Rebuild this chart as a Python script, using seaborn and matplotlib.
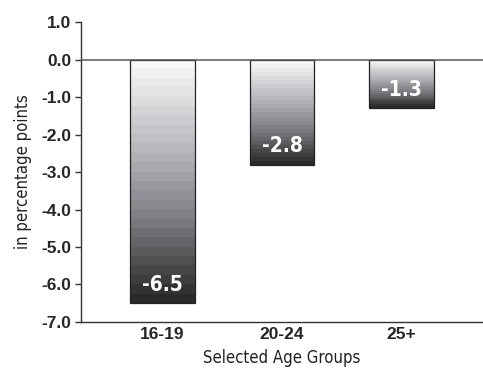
import numpy as np
import seaborn as sns
import matplotlib.pyplot as plt
from matplotlib.colors import LinearSegmentedColormap

groups = ['16-19', '20-24', '25+']
values = [-6.5, -2.8, -1.3]
y_ticks = [1.0, 0.0, -1.0, -2.0, -3.0, -4.0, -5.0, -6.0, -7.0]

sns.set_style('white')
plt.rcParams['font.family'] = ['Liberation Sans', 'DejaVu Sans']
plt.rcParams['axes.unicode_minus'] = False

fig = plt.figure(figsize=(4.83, 3.70), dpi=100)
ax = fig.add_axes([0.168, 0.13, 0.832, 0.81])

sns.barplot(x=groups, y=values, width=0.54, color='white', edgecolor='#222222',
            linewidth=0.9, ax=ax, zorder=3)

# stepped grey gradient, light at the top of each bar, dark at the bottom
cmap = LinearSegmentedColormap.from_list('bars', ['#f8f8f8', '#bdbdc2', '#7c7c82', '#2a2a2a'])
grad = np.linspace(0, 1, 26).reshape(-1, 1)
for bar in ax.patches:
    x0 = bar.get_x()
    w = bar.get_width()
    y0 = bar.get_y()
    h = bar.get_height()
    ax.imshow(grad, cmap=cmap, aspect='auto', interpolation='nearest', origin='upper',
              extent=[x0, x0 + w, min(y0, y0 + h), max(y0, y0 + h)], zorder=2)
    bar.set_facecolor('none')

for i, v in enumerate(values):
    ax.annotate(f'{v:.1f}', xy=(i, v), xytext=(0, 6), textcoords='offset points',
                ha='center', va='bottom', color='white', fontsize=15,
                fontweight='bold', family='DejaVu Sans', fontstretch='condensed', zorder=4)

ax.axhline(0, color='#555555', lw=1.1, zorder=4)

ax.set_xlim(-0.68, 2.68)
ax.set_ylim(-7.0, 1.0)
ax.set_yticks(y_ticks)
ax.set_yticklabels([f'{t:.1f}' for t in y_ticks], fontweight='bold', fontsize=12.5)
ax.set_xticks(range(len(groups)))
ax.set_xticklabels(groups, fontweight='bold', fontsize=12.5)
ax.tick_params(axis='y', direction='out', length=4, width=1, color='#333333', pad=3, left=True)
ax.tick_params(axis='x', length=0, pad=4)

for s in ['top', 'right']:
    ax.spines[s].set_visible(False)
for s in ['left', 'bottom']:
    ax.spines[s].set_color('#333333')
    ax.spines[s].set_linewidth(1)

ax.set_xlabel('Selected Age Groups', fontsize=12, family='DejaVu Sans',
              fontstretch='condensed', color='#222222', labelpad=5)
ax.set_ylabel('in percentage points', fontsize=12, family='DejaVu Sans',
              fontstretch='condensed', color='#222222', labelpad=7)

fig.savefig('out.png', dpi=100)
